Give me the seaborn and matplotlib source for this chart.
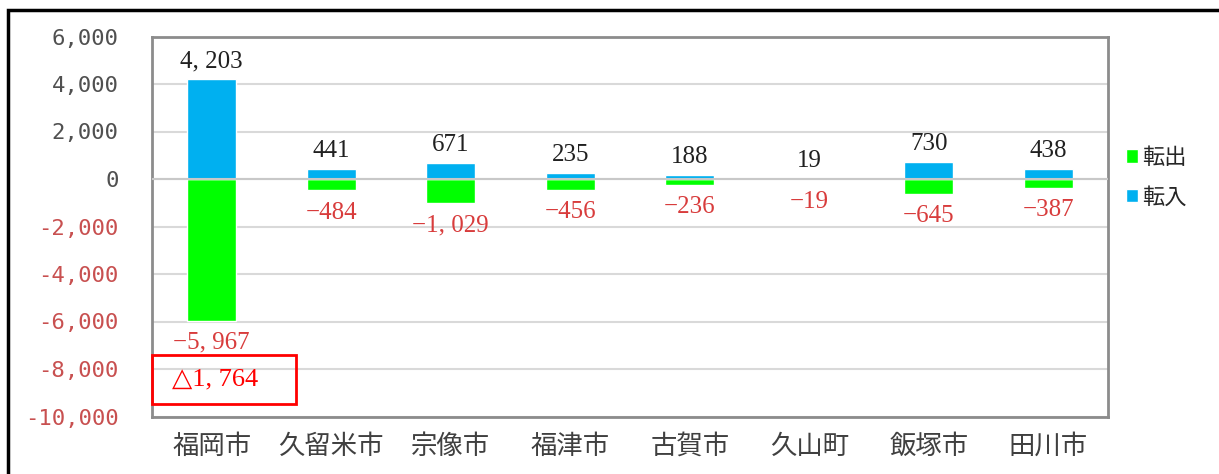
import seaborn as sns
import matplotlib.pyplot as plt
import pandas as pd
from matplotlib.patches import Rectangle

cities = ["福岡市", "久留米市", "宗像市", "福津市", "古賀市", "久山町", "飯塚市", "田川市"]
inflow = [4203, 441, 671, 235, 188, 19, 730, 438]
outflow = [-5967, -484, -1029, -456, -236, -19, -645, -387]
yticks = [6000, 4000, 2000, 0, -2000, -4000, -6000, -8000, -10000]
note = "△1, 764"

blue = "#00B0F0"
green = "#00FF00"
red_lbl = "#D83C3C"
serif = ["Liberation Serif", "DejaVu Serif"]

df = pd.DataFrame({"city": cities, "in": inflow, "out": outflow})

sns.set_theme(style="white")
plt.rcParams["font.family"] = ["Noto Sans CJK JP", "DejaVu Sans"]

fig = plt.figure(figsize=(12.19, 4.74), dpi=100)
ax = fig.add_axes([152 / 1219, 57.5 / 474, 956 / 1219, 380 / 474])

sns.barplot(data=df, x="city", y="out", color=green, width=0.41, saturation=1,
            label="転出", ax=ax, zorder=3)
sns.barplot(data=df, x="city", y="in", color=blue, width=0.41, saturation=1,
            label="転入", ax=ax, zorder=3)

ax.set_ylim(-10000, 6000)
ax.set_xlim(-0.5, len(cities) - 0.5)
ax.set_yticks(yticks)
ax.set_yticklabels([f"{v:,}" for v in yticks], family=["DejaVu Sans Mono"], fontsize=16)
for lbl, v in zip(ax.get_yticklabels(), yticks):
    lbl.set_color("#C85050" if v < 0 else "#505050")
ax.tick_params(axis="y", length=0, pad=24)
ax.tick_params(axis="x", length=0, pad=12, labelsize=19, labelcolor="#404040")
ax.set_xlabel("")
ax.set_ylabel("")

ax.yaxis.grid(True, color="#D9D9D9", linewidth=1.5, zorder=0)
ax.set_axisbelow(True)
ax.axhline(0, color="#C8C8C8", linewidth=1.5, zorder=4)
for s in ax.spines.values():
    s.set_color("#8C8C8C")
    s.set_linewidth(2)

for i, (vi, vo) in enumerate(zip(inflow, outflow)):
    ax.annotate(f"{vi:,}".replace(",", ", "), (i, vi), xytext=(0, 5), textcoords="offset points",
                ha="center", va="bottom", fontsize=18, family=serif, color="#202020")
    ax.annotate(f"−{abs(vo):,}".replace(",", ", "), (i, vo), xytext=(0, -8),
                textcoords="offset points",
                ha="center", va="top", fontsize=18, family=serif, color=red_lbl)

# red note box
ax.add_patch(Rectangle((0.0, 0.033), 0.151, 0.129, transform=ax.transAxes,
                       fill=False, edgecolor="#FF0000", linewidth=2, clip_on=False, zorder=5))
ax.text(0.021, 0.097, note, transform=ax.transAxes, ha="left", va="center",
        fontsize=19, family=["Liberation Serif", "DejaVu Serif"], color="#FF0000")

handles, labels = ax.get_legend_handles_labels()
ax.legend(handles, labels, loc="center left", bbox_to_anchor=(0.998, 0.63),
          frameon=False, fontsize=16, handlelength=0.55, handleheight=0.55,
          handletextpad=0.15, labelspacing=0.75)

# outer frame
fig.add_artist(Rectangle((8 / 1219, -0.1), 1.2, 0.1 + 464 / 474, transform=fig.transFigure,
                         fill=False, edgecolor="black", linewidth=2.5, clip_on=False))

fig.savefig("out.png", dpi=100)
